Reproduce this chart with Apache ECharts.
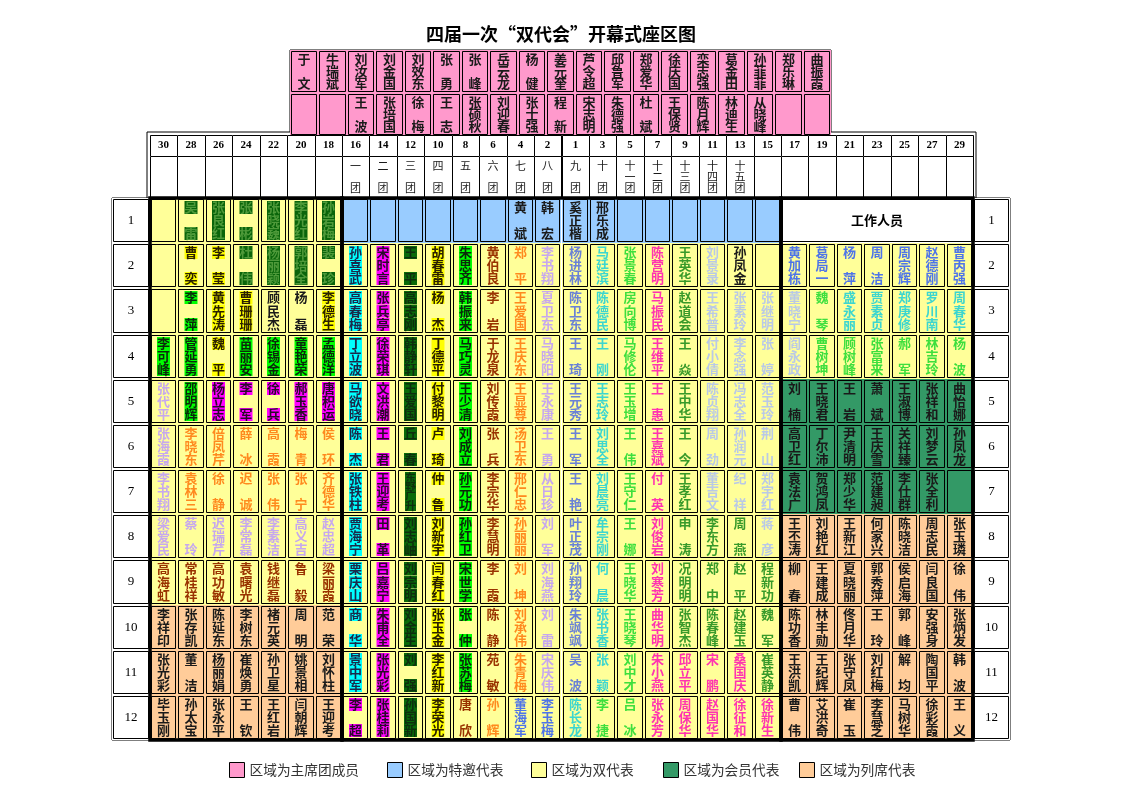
<!DOCTYPE html>
<html><head><meta charset="utf-8">
<script src="https://cdn.jsdelivr.net/npm/echarts@6/dist/echarts.min.js"></script>
<style>html,body{margin:0;padding:0;background:#fff}#c{width:1122px;height:793px}</style>
</head><body><div id="c"></div>
<script>
const title = '四届一次“双代会”开幕式座区图';
const presTop = ['于文','牛瑞斌','刘汝军','刘金国','刘效东','张勇','张峰','岳云龙','杨健','姜元奎','芦令超','邱鲁军','郑爱华','徐庆国','栾志强','葛金田','孙菲菲','郑乐琳','曲振霞'];
const presBottom = ['','','王波','张培国','徐梅','王志','张硕秋','刘迎春','张士强','程新','宋志明','朱德强','杜斌','王保贤','陈月辉','林迪生','从晓峰','',''];
const columns = ['30','28','26','24','22','20','18','16','14','12','10','8','6','4','2','1','3','5','7','9','11','13','15','17','19','21','23','25','27','29'];
const unitLabels = ['','','','','','','','一团','二团','三团','四团','五团','六团','七团','八团','九团','十团','十一团','十二团','十三团','十四团','十五团','','','','','','','',''];
const rowLabels = ['1','2','3','4','5','6','7','8','9','10','11','12'];
const staffLabel = '工作人员';

const r1 = ['','吴雷','张良红','张彬','张晓巍','李光红','孙岩梅','','','','','','','黄斌','韩宏','奚正楷','邢乐成','','','','','','','','','','','','',''];
const r2 = ['','曹奕','李莹','杜伟','杨丽颖','郭培全','裴珍','孙喜武','宋时言','王平','胡春雷','朱思齐','黄伯良','郑平','李书翔','杨进林','马廷滨','张景春','陈营明','王英华','刘景录','孙凤金','','黄加栋','葛局一','杨萍','周洁','周宗辉','赵德刚','曹丙强'];
const r3 = ['','李萍','黄先涛','曹珊珊','顾民杰','杨磊','李德生','高春梅','张兵亭','高志刚','杨杰','韩振来','李岩','王爱国','夏卫东','陈卫东','陈德民','房向博','马振民','赵道会','王希普','张素玲','张继明','董晓宁','魏琴','盛永丽','贾素贞','郑庚修','罗川南','周春华'];
const r4 = ['李可峰','管延勇','魏平','苗丽安','徐锡金','童艳荣','孟德洋','丁立波','徐荣琪','韩静轩','丁德平','马巧灵','于龙泉','王庆东','马晓阳','王琦','王刚','马修伦','王维平','王焱','付小倩','李念强','张婷','阎永政','曹树坤','顾树峰','张富来','郝军','林吉玲','杨波'];
const r5 = ['张代平','邵明辉','杨立志','李军','徐兵','郝玉香','唐积运','马欲晓','文洪潮','王爱国','付黎明','王少清','刘传霞','王显尊','王永康','王元秀','王志玲','王玉增','王惠','王中华','陈贞翔','冯志全','范玉玲','刘楠','王晓君','王岩','萧斌','王淑博','张祥和','曲怡娜'];
const r6 = ['张海霞','李晓东','倍凤芹','薛冰','高霞','梅青','侯环','陈杰','王君','丘春','卢琦','刘成立','张兵','汤卫东','王勇','王军','刘思全','王伟','王嘉斌','王今','周劲','孙润元','荆山','高卫红','丁尔沛','尹清明','王庆雪','关祥臻','刘梦云','孙凤龙'];
const r7 = ['李书翔','袁林三','徐静','迟诚','张伟','张宁','齐德华','张铁柱','王迎考','东野广升','仲鲁','孙元功','李宗华','邢仁忠','从日珍','王艳','刘晨亮','王守仁','付英','王孝红','董吉文','纪祥','郑宇红','袁法广','贺鸿凤','郑少华','范建昶','李仕群','张全利',''];
const r8 = ['梁爱民','蔡玲','迟瑞芹','李常磊','李素洁','高义吉','赵忠超','贾海宁','田革','刘志岫','刘新宇','孙红卫','李慧明','孙丽丽','刘军','叶正茂','牟宗刚','王娜','刘俊岩','申涛','李东方','周燕','蒋彦','王丕涛','刘艳红','王新江','何家兴','陈晓洁','周志民','张玉璘'];
const r9 = ['高海虹','常桂祥','高功敏','袁曙光','钱继磊','鲁毅','梁丽霞','栗庆山','吕嘉宁','刘宗明','闫春红','宋世学','李霞','刘坤','刘海燕','孙翔玲','何晨','王晓华','刘寒芳','况明明','郑中','赵平','程新功','柳春','王建成','夏晓丽','郭秀萍','侯启海','闫良国','徐伟'];
const r10 = ['李祥印','张存凯','陈延东','李树东','褚元英','周明','范荣','商华','朱甫全','刘金生','张玉金','张仲','陈静','刘承伟','刘雷','朱飒飒','张书香','王晓琴','曲华明','张智杰','陈春峰','赵建玉','魏军','陈功香','林丰勋','佟月华','王玲','郭峰','安强身','张炳发'];
const r11 = ['张光彩','董洁','杨丽娟','崔焕勇','孙卫星','姚景相','刘怀柱','景中军','张光彩','刘强','李红新','张苏梅','苑敏','朱青梅','宋庆伟','吴波','张颖','刘中才','朱小燕','邱立平','宋鹏','桑国庆','崔英静','王洪凯','王纪辉','张守凤','刘红梅','解均','陶国平','韩波'];
const r12 = ['毕玉刚','孙太宝','张永平','王钦','王红岩','闫朝辉','王迎考','李超','张桂莉','孙国新','李荣光','唐欣','孙辉','董海军','李玉梅','陈长龙','李捷','吕冰','张永芳','周保华','赵国华','徐征和','徐新生','曹伟','艾洪奇','崔玉','李慧芝','马树华','徐彩霞','王义'];

const s1 = '. D D D D D D . . . . . . k k k k . . . . . . . . . . . . .';
const s2 = '. y y D D D D c m d y g b o L s t G p e a k . B B B B B B B';
const s3 = '. g y y k k y c m d y g b o L s t G p e a a a a G t t t t t';
const s4 = 'g g y g g g g c m d y g b o L s t G p e a a a a G G G G G G';
const s5 = 'L g m m m m m c m d y g b o L s t G p e a a a k k k k k k k';
const s6 = 'L o o o o o o c m d y g b o L s t G p e a a a k k k k k k k';
const s7 = 'L o o o o o o c m d y g b o L s t G p e a a a k k k k k k .';
const s8 = 'L L L L L L L c m d y g b o L s t G p e e e a k k k k k k k';
const s9 = 'b b b b b b b c m d y g b o L s t G p e e e e k k k k k k k';
const s10 = 'k k k k k k k c m d y g b o L s t G p e e e e k k k k k k k';
const s11 = 'k k k k k k k c m d y g b o L s t G p p p p e k k k k k k k';
const s12 = 'k k k k k k k m m d y b o B B t G G p p p p p k k k k k k k';

const leftRegion = ['dual','dual','dual','dual','dual','dual','dual','dual','dual','attend','attend','attend'];
const midRegion = ['special','dual','dual','dual','dual','dual','dual','dual','dual','dual','dual','dual'];
const rightRegion = ['staff','dual','dual','dual','member','member','member','attend','attend','attend','attend','attend'];

const regionName = {pres:'区域为主席团成员', special:'区域为特邀代表', dual:'区域为双代表', member:'区域为会员代表', attend:'区域为列席代表', staff:'工作人员区'};
const regionColor = {pres:'#ff99cc', special:'#99ccff', dual:'#ffff99', member:'#339966', attend:'#ffcc99', staff:'#ffffff'};
const textStyles = {
  k:{fill:'#1a1a1a'}, y:{fill:'#2a2000',bg:'#ffff00'}, g:{fill:'#0a2a0a',bg:'#00ff00'},
  D:{fill:'#4f9a3a',bg:'#0a650a'}, d:{fill:'#0e2e0e',bg:'#0a6a0a'}, c:{fill:'#1a2a4a',bg:'#00ffff'},
  m:{fill:'#2a0a2a',bg:'#ff00ff'}, L:{fill:'#c6a8ee'}, o:{fill:'#ff8a1e'}, b:{fill:'#993300'},
  s:{fill:'#6a82d6'}, t:{fill:'#3cd6cf'}, G:{fill:'#3ddf3d'}, p:{fill:'#ff33b0'}, e:{fill:'#389a2a'},
  a:{fill:'#b9c9e6'}, B:{fill:'#4e74e8'}
};
const CJK = '"Noto Sans CJK SC", sans-serif';

const rows = [r1,r2,r3,r4,r5,r6,r7,r8,r9,r10,r11,r12];
const styles = [s1,s2,s3,s4,s5,s6,s7,s8,s9,s10,s11,s12].map(s => s.split(' '));
const mainItems = {special:[], dual:[], member:[], attend:[], staff:[]};
rows.forEach((r, ri) => r.forEach((name, ci) => {
  const reg = ci < 7 ? leftRegion[ri] : (ci < 23 ? midRegion[ri] : rightRegion[ri]);
  if (reg === 'staff') return;
  mainItems[reg].push({value:[ci, ri], name: name, code: styles[ri][ci]});
}));
mainItems.staff.push({value:[23, 0], name: staffLabel, code:'k', span:7, horiz:true});

const presItems = [];
presTop.forEach((n,i)=>presItems.push({value:[i,0], name:n, code:'k'}));
presBottom.forEach((n,i)=>presItems.push({value:[i,1], name:n, code:'k'}));

function cellGroup(x0, y0, x1, y1, fill, it, inset) {
  const xa = Math.round(x0), xb = Math.round(x1), ya = Math.round(y0), yb = Math.round(y1);
  const ch = [{type:'rect', shape:{x:xa, y:ya, width:xb-xa, height:yb-ya}, style:{fill:fill}}];
  if (inset) ch.push({type:'rect', shape:{x:xa+1.5, y:ya+1.5, width:xb-xa-3, height:yb-ya-3}, style:{fill:null, stroke:'#000', lineWidth:1}});
  else ch.push({type:'rect', shape:{x:xa+0.5, y:ya+0.5, width:xb-xa, height:yb-ya}, style:{fill:null, stroke:'#000', lineWidth:1}});
  if (it && it.name) {
    const ts = textStyles[it.code] || textStyles.k;
    const cx = (xa+xb)/2;
    if (it.horiz) {
      ch.push({type:'text', x:cx, y:(ya+yb)/2, style:{text:it.name, fill:'#000', font:'bold 13px '+CJK, align:'center', verticalAlign:'middle'}});
    } else if (it.font) {
      ch.push({type:'text', x:cx, y:(ya+yb)/2, style:{text:it.name, fill:'#000', font:it.font, align:'center', verticalAlign:'middle'}});
    } else {
      const chars = Array.from(it.name);
      const n = chars.length;
      const fs = it.fs || (n >= 4 ? 11 : 13);
      const pad = it.pad != null ? it.pad : 3;
      const top = ya + pad + fs/2, bot = yb - pad - fs/2;
      chars.forEach((c, i) => {
        const cy = n === 1 ? (ya+yb)/2 : top + i*(bot-top)/(n-1);
        const st = {text:c, fill:ts.fill, font:(it.weight||'bold')+' '+fs+'px '+CJK, align:'center', verticalAlign:'middle', lineHeight:fs};
        if (ts.bg) { st.backgroundColor = ts.bg; }
        ch.push({type:'text', x:cx, y:cy, style:st});
      });
    }
  }
  return {type:'group', children:ch};
}

function renderer(items, fill, inset) {
  return function(params, api) {
    const it = items[params.dataIndex];
    const c = api.coord([api.value(0), api.value(1)]);
    const sz = api.size([1,1]);
    const span = it.span || 1;
    const x0 = c[0]-sz[0]/2, y0 = c[1]-sz[1]/2;
    return cellGroup(x0, y0, x0+sz[0]*span, y0+sz[1], it.fill || fill, it, inset);
  };
}

const series = [];
['special','dual','member','attend','staff'].forEach(reg => {
  series.push({type:'custom', name:regionName[reg], xAxisIndex:0, yAxisIndex:0, itemStyle:{color:regionColor[reg]},
    data: mainItems[reg].map(d=>d.value), renderItem: renderer(mainItems[reg], regionColor[reg], true), z:2});
});
series.push({type:'custom', name:regionName.pres, xAxisIndex:5, yAxisIndex:5, itemStyle:{color:regionColor.pres},
  data: presItems.map(d=>d.value), renderItem: renderer(presItems, regionColor.pres, true), z:2});

const leftItems = rowLabels.map((l,i)=>({value:[0,i], name:l, font:'13px "Liberation Serif", serif'}));
const rightItems = rowLabels.map((l,i)=>({value:[0,i], name:l, font:'13px "Liberation Serif", serif'}));
series.push({type:'custom', name:'rowL', xAxisIndex:1, yAxisIndex:1, data:leftItems.map(d=>d.value), renderItem:renderer(leftItems,'#fff',true), z:2});
series.push({type:'custom', name:'rowR', xAxisIndex:2, yAxisIndex:2, data:rightItems.map(d=>d.value), renderItem:renderer(rightItems,'#fff',true), z:2});

const numItems = columns.map((c,i)=>({value:[i,0], name:c, font:'bold 11px "Liberation Serif", serif'}));
const unitItems = unitLabels.map((u,i)=>({value:[i,0], name:u, code:'k', fs:11, pad:4, weight:'normal'}));
series.push({type:'custom', name:'num', xAxisIndex:3, yAxisIndex:3, data:numItems.map(d=>d.value), renderItem:renderer(numItems,'#fff',false), z:2});
series.push({type:'custom', name:'unit', xAxisIndex:4, yAxisIndex:4, data:unitItems.map(d=>d.value), renderItem:renderer(unitItems,'#fff',false), z:2});

const blocks = [[0,6],[7,22],[23,29]];
series.push({type:'custom', name:'frames', xAxisIndex:0, yAxisIndex:0, z:5, data:blocks,
  renderItem: function(params, api) {
    const a = api.coord([api.value(0), 0]), b = api.coord([api.value(1), rowLabels.length-1]);
    const sz = api.size([1,1]);
    const x0 = Math.round(a[0]-sz[0]/2), x1 = Math.round(b[0]+sz[0]/2);
    const y0 = Math.round(a[1]-sz[1]/2), y1 = Math.round(b[1]+sz[1]/2);
    return {type:'rect', shape:{x:x0, y:y0, width:x1-x0, height:y1-y0}, style:{fill:null, stroke:'#000', lineWidth:3.5}};
  }});

const hidden = {show:false};
const option = {
  animation:false,
  backgroundColor:'#fff',
  title:{text:title, left:'center', top:20, textStyle:{fontSize:18, fontWeight:'bold', fontFamily:CJK, color:'#000'}},
  legend: [
    {data:[regionName.pres], left:229},
    {data:[regionName.special], left:387},
    {data:[regionName.dual], left:531},
    {data:[regionName.member], left:663},
    {data:[regionName.attend], left:799}
  ].map(l => Object.assign(l, {top:762, padding:0, itemWidth:15, itemHeight:15, icon:'rect', selectedMode:false,
      itemStyle:{borderColor:'#000', borderWidth:1}, textStyle:{fontSize:13.7, color:'#333', fontFamily:CJK}})),
  grid: [
    {left:150, top:198, width:823, height:542, show:false},
    {left:112, top:198, width:38, height:542, show:true, borderColor:'#000', borderWidth:1, backgroundColor:'#fff'},
    {left:973, top:198, width:37, height:542, show:true, borderColor:'#000', borderWidth:1, backgroundColor:'#fff'},
    {left:150, top:135, width:823, height:21, show:false},
    {left:150, top:156, width:823, height:41, show:false},
    {left:290, top:50, width:541, height:86, show:true, borderColor:'#000', borderWidth:1, backgroundColor:'#ff99cc'},
    {left:147, top:132, width:829, height:66, show:true, borderColor:'#000', borderWidth:1, backgroundColor:'#fff'}
  ],
  xAxis: [
    Object.assign({gridIndex:0, type:'category', data:columns}, hidden),
    Object.assign({gridIndex:1, type:'category', data:['L']}, hidden),
    Object.assign({gridIndex:2, type:'category', data:['R']}, hidden),
    Object.assign({gridIndex:3, type:'category', data:columns}, hidden),
    Object.assign({gridIndex:4, type:'category', data:columns}, hidden),
    Object.assign({gridIndex:5, type:'category', data:presTop.map((_,i)=>String(i))}, hidden),
    Object.assign({gridIndex:6, type:'category', data:['f']}, hidden)
  ],
  yAxis: [
    Object.assign({gridIndex:0, type:'category', data:rowLabels, inverse:true}, hidden),
    Object.assign({gridIndex:1, type:'category', data:rowLabels, inverse:true}, hidden),
    Object.assign({gridIndex:2, type:'category', data:rowLabels, inverse:true}, hidden),
    Object.assign({gridIndex:3, type:'category', data:['num']}, hidden),
    Object.assign({gridIndex:4, type:'category', data:['unit']}, hidden),
    Object.assign({gridIndex:5, type:'category', data:['top','bottom'], inverse:true}, hidden),
    Object.assign({gridIndex:6, type:'category', data:['f']}, hidden)
  ],
  series: series
};
const chart = echarts.init(document.getElementById('c'), null, {renderer:'canvas'});
chart.setOption(option);
</script></body></html>
